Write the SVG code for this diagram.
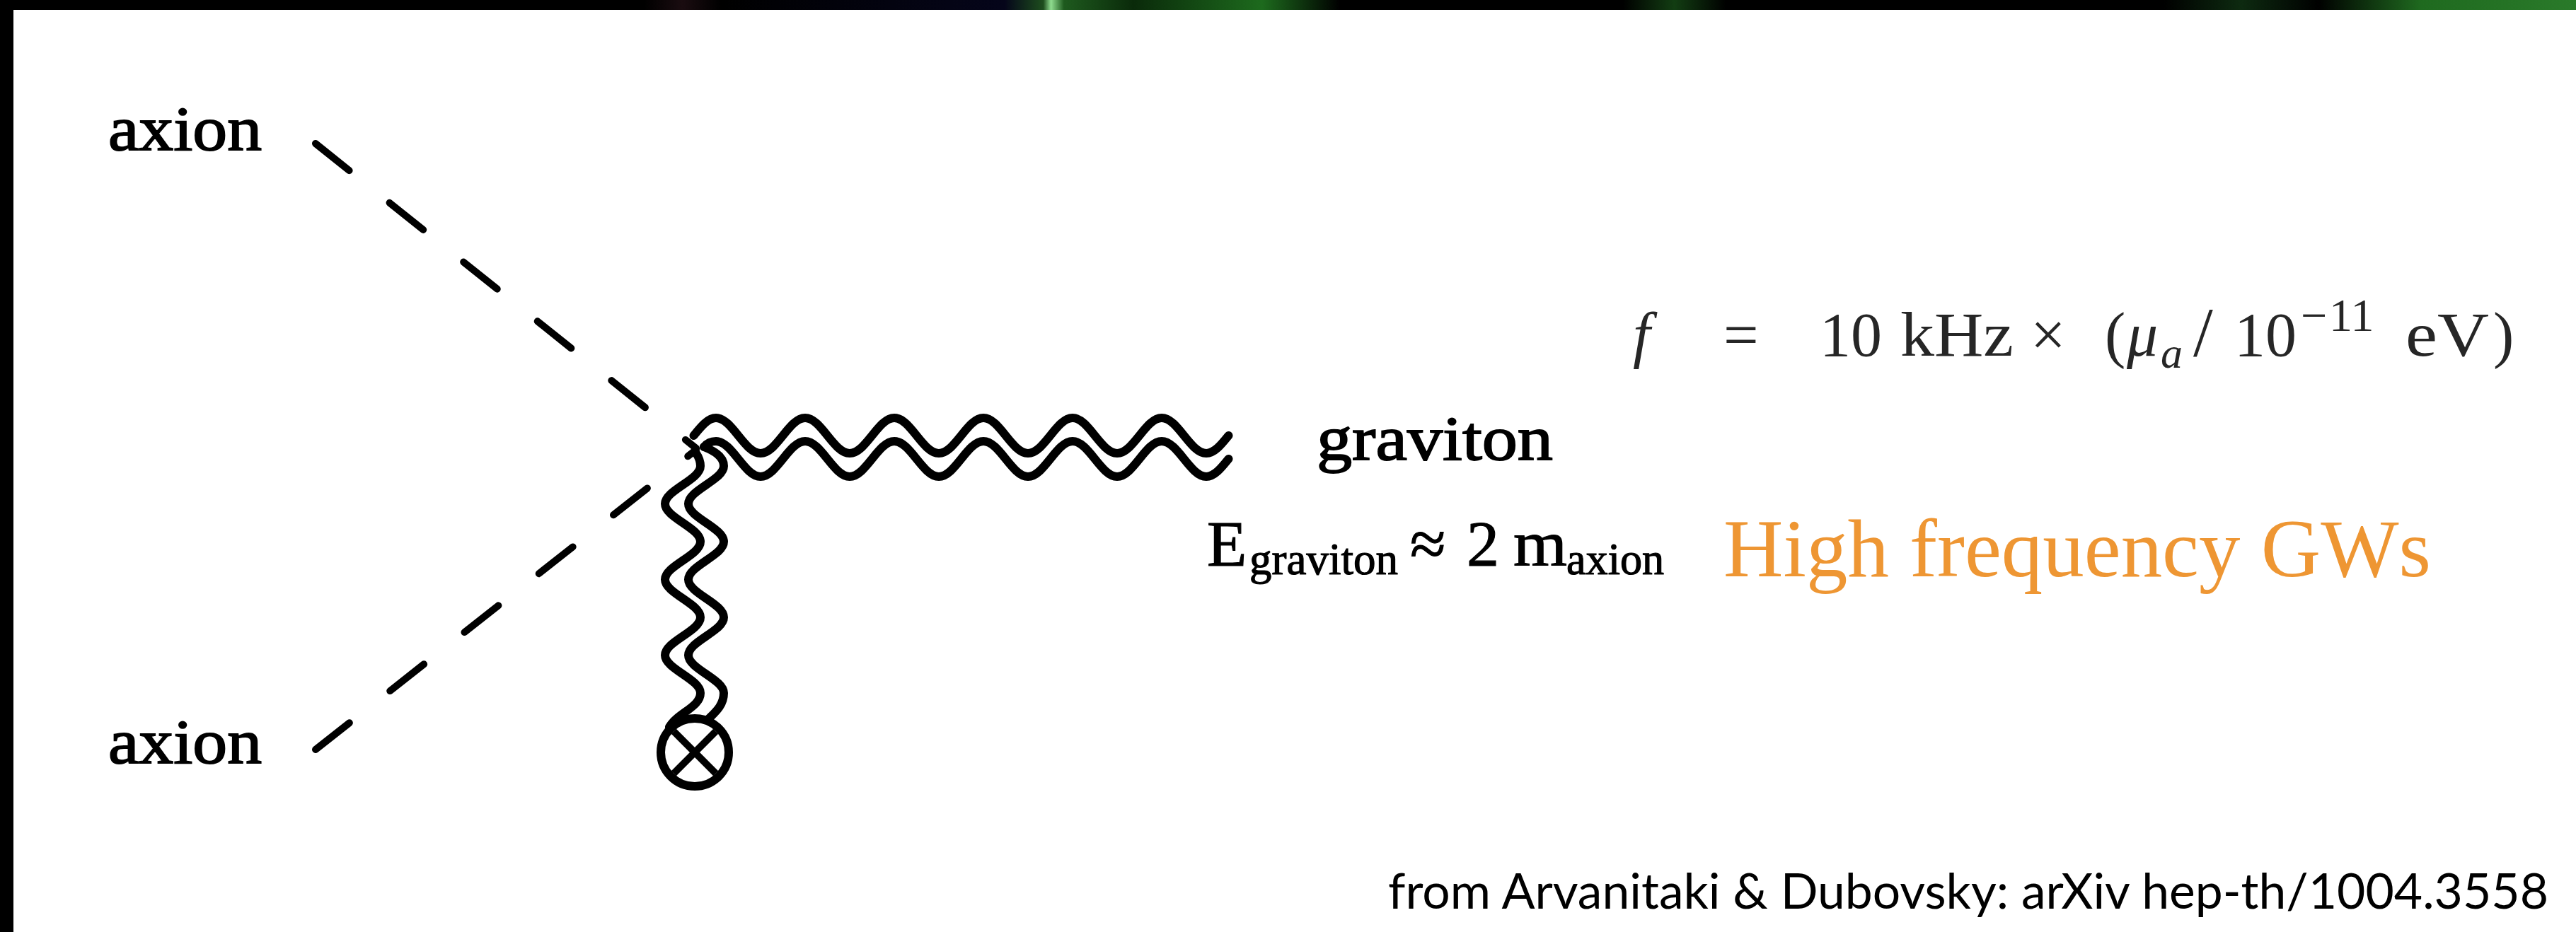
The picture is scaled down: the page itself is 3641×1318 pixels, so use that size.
<svg xmlns="http://www.w3.org/2000/svg" width="3641" height="1318" viewBox="0 0 3641 1318">
<defs>
<linearGradient id="streaks" x1="0" y1="0" x2="3641" y2="0" gradientUnits="userSpaceOnUse">
<stop offset="0" stop-color="#000"/>
<stop offset="0.25" stop-color="#000"/>
<stop offset="0.265" stop-color="#1a0c10"/>
<stop offset="0.28" stop-color="#000"/>
<stop offset="0.39" stop-color="#05051a"/>
<stop offset="0.405" stop-color="#1d4d1d"/>
<stop offset="0.408" stop-color="#8fdc8f"/>
<stop offset="0.413" stop-color="#1e5a1e"/>
<stop offset="0.44" stop-color="#0a2a0a"/>
<stop offset="0.49" stop-color="#1d6a1d"/>
<stop offset="0.52" stop-color="#000"/>
<stop offset="0.63" stop-color="#000"/>
<stop offset="0.65" stop-color="#123d12"/>
<stop offset="0.67" stop-color="#000"/>
<stop offset="0.84" stop-color="#000"/>
<stop offset="0.87" stop-color="#0d2a10"/>
<stop offset="0.9" stop-color="#000"/>
<stop offset="0.94" stop-color="#1f6a1f"/>
<stop offset="1" stop-color="#2a7a2a"/>
</linearGradient>
<style>
.serif{font-family:"Liberation Serif","Times New Roman",serif;fill:#000}
.heavy{stroke:#000;stroke-width:1.8}
.mid{stroke:#000;stroke-width:1.2}
.math{font-family:"Liberation Serif","Times New Roman",serif;fill:#262626}
.it{font-style:italic}
.sans{font-family:Lato,"Open Sans","Liberation Sans",sans-serif;fill:#000}
.hf{font-family:"Liberation Serif","Times New Roman",serif;fill:#EE9633}
.dash{fill:none;stroke:#000;stroke-width:10;stroke-linecap:round;stroke-dasharray:61 73}
.wave{fill:none;stroke:#000;stroke-width:12;stroke-linecap:round;stroke-linejoin:round}
.src{fill:none;stroke:#000;stroke-width:12}
.srcx{fill:none;stroke:#000;stroke-width:10}
</style>
</defs>
<rect x="0" y="0" width="3641" height="1318" fill="#fff"/>
<rect x="0" y="0" width="3641" height="14" fill="url(#streaks)"/>
<rect x="0" y="0" width="19" height="1318" fill="#000"/>

<g id="connectors">
<path class="dash" d="M446,203 L984,634"/>
<path class="dash" d="M446,1060 L984,636"/>
<path class="wave" d="M980.5,616 C990.8,603.2 1000.6,591 1012,591 C1034.9,591 1052.1,641 1075,641 S1115.1,591 1138,591 S1178.1,641 1201,641 S1241.1,591 1264,591 S1304.1,641 1327,641 S1367.1,591 1390,591 S1430.1,641 1453,641 S1493.1,591 1516,591 S1556.1,641 1579,641 S1619.1,591 1642,591 S1682.1,641 1705,641 C1716.4,641 1726.2,628.8 1736.5,616"/>
<path class="wave" d="M995,632 C1000,626 1005,624 1012,624 C1034.9,624 1052.1,674 1075,674 S1115.1,624 1138,624 S1178.1,674 1201,674 S1241.1,624 1264,624 S1304.1,674 1327,674 S1367.1,624 1390,624 S1430.1,674 1453,674 S1493.1,624 1516,624 S1556.1,674 1579,674 S1619.1,624 1642,624 S1682.1,674 1705,674 C1716.4,674 1726.2,661.8 1736.5,649"/>
<path class="wave" d="M984,641 C988,647 990,652 990,659 C990,678.4 940,693.1 940,712.5 S990,746.6 990,766 S940,800.1 940,819.5 S990,853.6 990,873 S940,907.1 940,926.5 S990,960.6 990,980 C990,1000 958,1008 946,1028"/>
<path class="wave" d="M995,632 C1008,637 1023,646 1023,659 C1023,678.4 973,693.1 973,712.5 S1023,746.6 1023,766 S973,800.1 973,819.5 S1023,853.6 1023,873 S973,907.1 973,926.5 S1023,960.6 1023,980 C1023,998 1010,1008 1000,1018"/>
</g>

<g id="axion-in-1">
<text class="serif heavy" x="153" y="212" font-size="89" textLength="217" lengthAdjust="spacingAndGlyphs">axion</text>
</g>
<g id="axion-in-2">
<text class="serif heavy" x="153" y="1079" font-size="89" textLength="217" lengthAdjust="spacingAndGlyphs">axion</text>
</g>
<g id="graviton-out">
<text class="serif heavy" x="1861" y="650" font-size="89" textLength="334" lengthAdjust="spacingAndGlyphs">graviton</text>
</g>
<g id="source">
<circle class="src" cx="982" cy="1064" r="48"/>
<path class="srcx" d="M952.3,1034.3 L1011.7,1093.7 M1011.7,1034.3 L952.3,1093.7"/>
</g>

<g id="energy">
<text class="serif mid" font-size="92" y="800"><tspan x="1706">E</tspan><tspan x="1766" y="812" font-size="64" textLength="210" lengthAdjust="spacingAndGlyphs">graviton</tspan><tspan x="1993" y="800">≈</tspan><tspan x="2073">2</tspan><tspan x="2139" textLength="76" lengthAdjust="spacingAndGlyphs">m</tspan><tspan x="2214" y="812" font-size="64" textLength="138" lengthAdjust="spacingAndGlyphs">axion</tspan></text>
</g>

<g id="high-frequency">
<text class="hf" x="2436" y="815" font-size="117" textLength="1000" lengthAdjust="spacingAndGlyphs">High frequency GWs</text>
</g>

<g id="formula">
<text class="math" font-size="88" y="503"><tspan x="2308" class="it">f</tspan><tspan x="2436">=</tspan><tspan x="2572">10</tspan><tspan x="2686" textLength="160" lengthAdjust="spacingAndGlyphs">kHz</tspan><tspan x="2870">×</tspan><tspan x="2975">(</tspan><tspan x="3006" class="it">μ</tspan><tspan x="3054" y="520" font-size="62" class="it">a</tspan><tspan x="3100" y="503" font-size="100">/</tspan><tspan x="3158">10</tspan><tspan x="3252" y="468" font-size="66">−</tspan><tspan x="3292" y="468" font-size="66">11</tspan><tspan x="3400" y="503" textLength="118" lengthAdjust="spacingAndGlyphs">eV</tspan><tspan x="3524">)</tspan></text>
</g>

<g id="citation">
<text class="sans" x="1962" y="1285" font-size="69" textLength="1640" lengthAdjust="spacingAndGlyphs">from Arvanitaki &amp; Dubovsky: arXiv hep-th/1004.3558</text>
</g>
</svg>
